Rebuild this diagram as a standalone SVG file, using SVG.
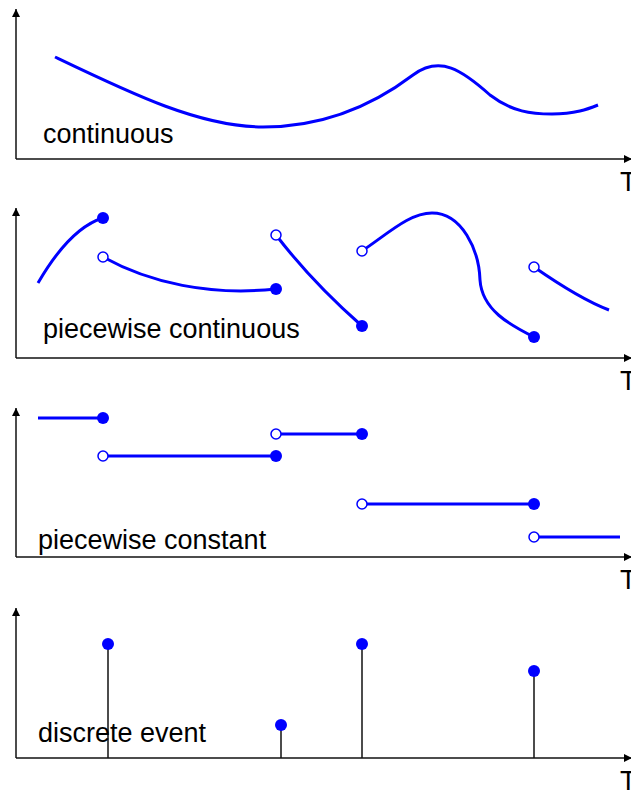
<svg xmlns="http://www.w3.org/2000/svg" width="631" height="791" viewBox="0 0 631 791">
<style>
.ax{stroke:#111;stroke-width:1.5;fill:none}
.c{stroke:#0000ff;stroke-width:3;fill:none;stroke-linecap:butt}
.f{fill:#0000ff}
.o{fill:#fff;stroke:#0000ff;stroke-width:1.5}
.st{stroke:#111;stroke-width:1.5}
.lb{font-family:"Liberation Sans",Arial,sans-serif;font-size:27px;fill:#000}
</style>
<defs>
<marker id="ah" viewBox="0 0 10 10" refX="10" refY="5" markerWidth="8" markerHeight="8" markerUnits="userSpaceOnUse" orient="auto">
<path d="M0,0 L10,5 L0,10 z" fill="#000"/>
</marker>
</defs>
<g id="panel-continuous">
<path class="ax" d="M16,159 V9" marker-end="url(#ah)"/>
<path class="ax" d="M16,159 H632" marker-end="url(#ah)"/>
<text class="lb" x="620" y="191">T</text>
<path class="c" d="M55,57 C130,93 200,127 263,127 C330,127 380,100 413,75 C440,55 462,70 490,95 C512,112 532,114 552,114 C575,114 588,109 598,105"/>
<text class="lb" x="43" y="143">continuous</text>
</g>
<g id="panel-piecewise-continuous">
<path class="ax" d="M16,358 V208" marker-end="url(#ah)"/>
<path class="ax" d="M16,358 H632" marker-end="url(#ah)"/>
<text class="lb" x="620" y="390">T</text>
<path class="c" d="M38,283 Q70,228 103,218"/>
<circle class="f" cx="103" cy="218" r="6"/>
<path class="c" d="M103,257 C150,283 210,296 276,289"/>
<circle class="o" cx="103" cy="257" r="5"/>
<circle class="f" cx="276" cy="289" r="6"/>
<path class="c" d="M276,235 Q312,282 362,326"/>
<circle class="o" cx="276" cy="235" r="5"/>
<circle class="f" cx="362" cy="326" r="6"/>
<path class="c" d="M362,251 C390,232 410,213 432,213 C462,213 479,250 480,280 C482,310 510,325 534,337"/>
<circle class="o" cx="362" cy="251" r="5"/>
<circle class="f" cx="534" cy="337" r="6"/>
<path class="c" d="M534,267 Q580,299 609,310"/>
<circle class="o" cx="534" cy="267" r="5"/>
<text class="lb" x="43" y="338">piecewise continuous</text>
</g>
<g id="panel-piecewise-constant">
<path class="ax" d="M16,557 V408" marker-end="url(#ah)"/>
<path class="ax" d="M16,557 H632" marker-end="url(#ah)"/>
<text class="lb" x="620" y="589">T</text>
<path class="c" d="M38,418 H103"/>
<circle class="f" cx="103" cy="418" r="6"/>
<path class="c" d="M103,456 H276"/>
<circle class="o" cx="103" cy="456" r="5"/>
<circle class="f" cx="276" cy="456" r="6"/>
<path class="c" d="M276,434 H362"/>
<circle class="o" cx="276" cy="434" r="5"/>
<circle class="f" cx="362" cy="434" r="6"/>
<path class="c" d="M362,504 H534"/>
<circle class="o" cx="362" cy="504" r="5"/>
<circle class="f" cx="534" cy="504" r="6"/>
<path class="c" d="M534,537 H620"/>
<circle class="o" cx="534" cy="537" r="5"/>
<text class="lb" x="38" y="549">piecewise constant</text>
</g>
<g id="panel-discrete-event">
<path class="ax" d="M16,758 V608" marker-end="url(#ah)"/>
<path class="ax" d="M16,758 H632" marker-end="url(#ah)"/>
<text class="lb" x="620" y="790">T</text>
<line class="st" x1="108" y1="644" x2="108" y2="758"/>
<circle class="f" cx="108" cy="644" r="6"/>
<line class="st" x1="281" y1="725" x2="281" y2="758"/>
<circle class="f" cx="281" cy="725" r="6"/>
<line class="st" x1="362" y1="644" x2="362" y2="758"/>
<circle class="f" cx="362" cy="644" r="6"/>
<line class="st" x1="534" y1="671" x2="534" y2="758"/>
<circle class="f" cx="534" cy="671" r="6"/>
<text class="lb" x="38" y="742">discrete event</text>
</g>
</svg>
